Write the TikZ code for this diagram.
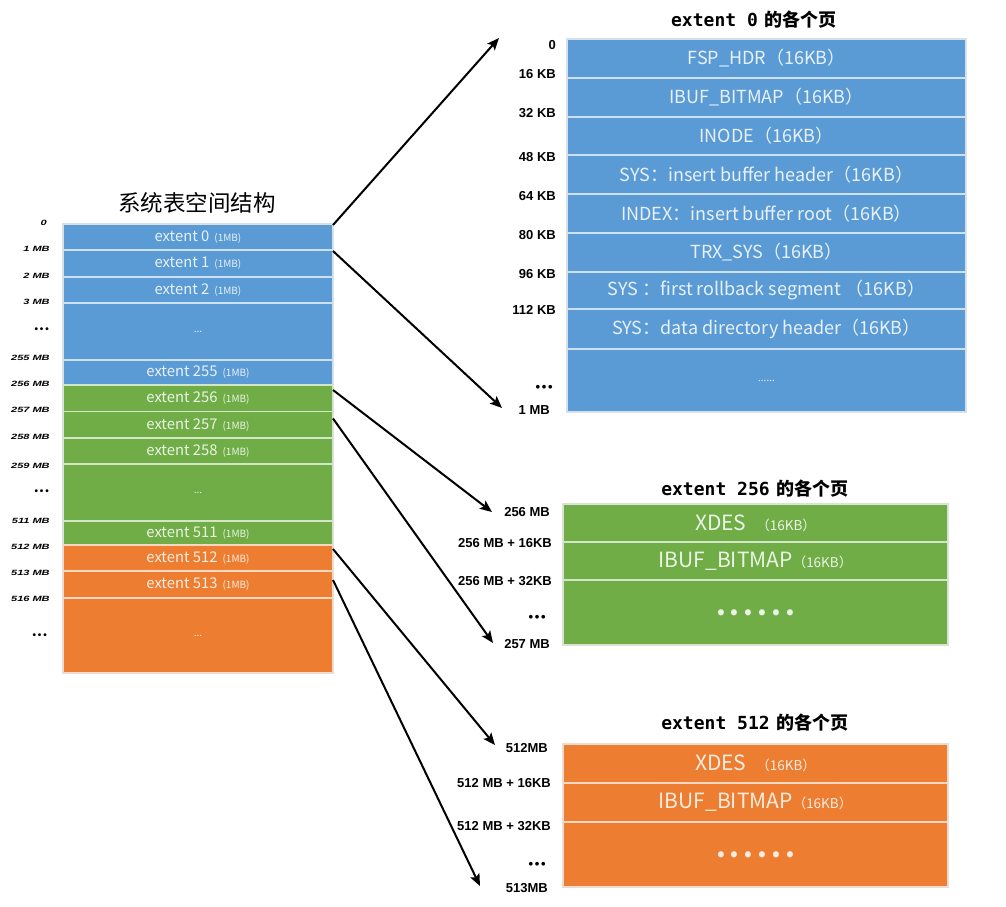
\documentclass[tikz,border=0pt]{standalone}
\usepackage{fontspec}
\setmainfont{Noto Sans CJK SC}
\newfontfamily\labf{Liberation Sans}
\newfontfamily\monof{DejaVu Sans Mono}
\newfontfamily\cjkf{Noto Sans CJK SC}
\usetikzlibrary{arrows.meta,calc}
\definecolor{cblue}{HTML}{5B9BD5}
\definecolor{cgreen}{HTML}{70AD47}
\definecolor{corange}{HTML}{ED7D31}
\newcommand\onemb{{\hspace{5pt}\fontsize{10}{10}\selectfont(1MB)}}
\newcommand\kbs{{\fontsize{13.5}{14}\selectfont（16KB）}}
\newcommand\bigdotsrow{{\fontsize{28}{30}\selectfont\bfseries .\kern4pt.\kern4pt.\kern4pt.\kern4pt.\kern4pt.}}
\newcommand\tridots{•\kern1.8pt•\kern1.8pt•}
\begin{document}
\begin{tikzpicture}[x=1pt,y=-1pt,
  cell/.style={rectangle,inner sep=0pt,outer sep=0pt,line width=1.3pt,
     fill=#1,draw=white!70!#1,text=white!86!#1},
  lcell/.style 2 args={cell=#1,minimum width=270pt,minimum height=#2 pt,
     font=\fontsize{14.8}{16}\selectfont},
  tcell/.style={cell=cblue,minimum width=399pt,minimum height=#1 pt,
     font=\fontsize{18}{19}\selectfont},
  gcell/.style 2 args={cell=#1,minimum width=385pt,minimum height=#2 pt,
     font=\fontsize{21}{23}\selectfont},
  llab/.style={anchor=east,inner sep=0pt,xscale=1.45,
     font=\labf\bfseries\itshape\fontsize{7.6}{8}\selectfont},
  ldots/.style={anchor=east,inner sep=0pt,font=\labf\bfseries\fontsize{10}{10}\selectfont},
  rlab/.style={anchor=east,inner sep=0pt,font=\labf\bfseries\fontsize{13}{14}\selectfont},
  ttl/.style={inner sep=0pt,font=\fontsize{18}{20}\selectfont\bfseries},
  arr/.style={line width=2pt,-{Stealth[length=12pt,width=10pt,inset=2.5pt]}},
]
\useasboundingbox[fill=white] (0,0) rectangle (1006,906);

% ---------- left column ----------
\node[inner sep=0pt,font=\fontsize{22.5}{24}\selectfont] (ltitle) at (197,203) {系统表空间结构};
\node[lcell={cblue}{26}]   (e0)   at (198,237)   {extent 0\onemb};
\node[lcell={cblue}{27}]   (e1)   at (198,263.5) {extent 1\onemb};
\node[lcell={cblue}{26}]   (e2)   at (198,290)   {extent 2\onemb};
\node[lcell={cblue}{57}]   (ed1)  at (198,331.5) {{\fontsize{10}{12}\selectfont ...}};
\node[lcell={cblue}{25}]   (e255) at (198,372.5) {extent 255\onemb};
\node[lcell={cgreen}{26.5}] (e256) at (198,398.25) {extent 256\onemb};
\node[lcell={cgreen}{26.5}] (e257) at (198,424.75) {extent 257\onemb};
\node[lcell={cgreen}{26}]  (e258) at (198,451)   {extent 258\onemb};
\node[lcell={cgreen}{57}]  (ed2)  at (198,492.5) {{\fontsize{10}{12}\selectfont ...}};
\node[lcell={cgreen}{24}]  (e511) at (198,533)   {extent 511\onemb};
\node[lcell={corange}{26}] (e512) at (198,558)   {extent 512\onemb};
\node[lcell={corange}{27}] (e513) at (198,584.5) {extent 513\onemb};
\node[lcell={corange}{75}] (ed3)  at (198,635.5) {{\fontsize{10}{12}\selectfont ...}};
\draw[gray!25,line width=0.8pt] (e0.north west) rectangle (ed3.south east);

\node[llab] (l0)   at (47,223) {0};
\node[llab] (l1)   at (50,249) {1 MB};
\node[llab] (l2)   at (50,276) {2 MB};
\node[llab] (l3)   at (50,302) {3 MB};
\node[ldots] (ld1) at (49,330) {\tridots};
\node[llab] (l255) at (50,358) {255 MB};
\node[llab] (l256) at (50,384) {256 MB};
\node[llab] (l257) at (50,410) {257 MB};
\node[llab] (l258) at (50,437) {258 MB};
\node[llab] (l259) at (50,466) {259 MB};
\node[ldots] (ld2) at (49,492) {\tridots};
\node[llab] (l511) at (50,521) {511 MB};
\node[llab] (l512) at (50,547) {512 MB};
\node[llab] (l513) at (50,573) {513 MB};
\node[llab] (l516) at (50,599) {516 MB};
\node[ldots] (ld3) at (47,636) {\tridots};

% ---------- extent 0 pages ----------
\node[ttl] (t0title) at (754,20) {{\monof extent 0}\hspace{7pt}\cjkf 的各个页};
\node[tcell=39] (p0) at (766.5,58.5)  {FSP\_HDR（16KB）};
\node[tcell=39] (p1) at (766.5,97.5)  {IBUF\_BITMAP（16KB）};
\node[tcell=38] (p2) at (766.5,136)   {INODE（16KB）};
\node[tcell=39] (p3) at (766.5,174.5) {SYS：insert buffer header（16KB）};
\node[tcell=39] (p4) at (766.5,213.5) {INDEX：insert buffer root（16KB）};
\node[tcell=39] (p5) at (766.5,252.5) {TRX\_SYS（16KB）};
\node[tcell=37] (p6) at (766.5,290.5) {SYS ：first rollback segment （16KB）};
\node[tcell=40] (p7) at (766.5,329)   {SYS：data directory header（16KB）};
\node[tcell=63] (p8) at (766.5,380.5) {{\fontsize{10}{12}\selectfont ......}};
\draw[gray!25,line width=0.8pt] (p0.north west) rectangle (p8.south east);

\node[rlab] (k0)   at (556,45)  {0};
\node[rlab] (k16)  at (556,74)  {16 KB};
\node[rlab] (k32)  at (556,113) {32 KB};
\node[rlab] (k48)  at (556,157) {48 KB};
\node[rlab] (k64)  at (556,196) {64 KB};
\node[rlab] (k80)  at (556,235) {80 KB};
\node[rlab] (k96)  at (556,274) {96 KB};
\node[rlab] (k112) at (556,310) {112 KB};
\node[rlab] (kd)   at (553,388) {\tridots};
\node[rlab] (k1m)  at (550,410) {1 MB};

% ---------- extent 256 pages ----------
\node[ttl] (t256title) at (755,489) {{\monof extent 256}\hspace{7pt}\cjkf 的各个页};
\node[gcell={cgreen}{38}] (g0) at (755.5,523) {XDES\hspace{10pt}\kbs};
\node[gcell={cgreen}{38}] (g1) at (755.5,561) {IBUF\_BITMAP\kbs};
\node[gcell={cgreen}{65}] (g2) at (755.5,612.5) {\bigdotsrow};
\draw[gray!25,line width=0.8pt] (g0.north west) rectangle (g2.south east);

\node[rlab] (m0)  at (550,512) {256 MB};
\node[rlab] (m1)  at (552,543) {256 MB + 16KB};
\node[rlab] (m2)  at (552,581) {256 MB + 32KB};
\node[rlab] (md)  at (546,618) {\tridots};
\node[rlab] (m3)  at (550,644) {257 MB};

% ---------- extent 512 pages ----------
\node[ttl] (t512title) at (755,723) {{\monof extent 512}\hspace{7pt}\cjkf 的各个页};
\node[gcell={corange}{39}] (o0) at (755.5,763.5) {XDES\hspace{10pt}\kbs};
\node[gcell={corange}{39}] (o1) at (755.5,802.5) {IBUF\_BITMAP\kbs};
\node[gcell={corange}{65}] (o2) at (755.5,854.5) {\bigdotsrow};
\draw[gray!25,line width=0.8pt] (o0.north west) rectangle (o2.south east);

\node[rlab] (n0)  at (548,748) {512MB};
\node[rlab] (n1)  at (551,783) {512 MB + 16KB};
\node[rlab] (n2)  at (551,826) {512 MB + 32KB};
\node[rlab] (nd)  at (546,865) {\tridots};
\node[rlab] (n3)  at (548,888) {513MB};

% ---------- arrows ----------
\coordinate (a1) at (499,38);
\coordinate (a2) at (502,408);
\coordinate (a3) at (492,512);
\coordinate (a4) at (493,643);
\coordinate (a5) at (495,745);
\coordinate (a6) at (480,886);
\draw[arr] ([yshift=-1pt]e0.north east) -- (a1);
\draw[arr] ([yshift=-1pt]e1.north east) -- (a2);
\draw[arr] ([yshift=-5pt]e256.north east) -- (a3);
\draw[arr] ([yshift=-7pt]e257.north east) -- (a4);
\draw[arr] ([yshift=-4pt]e512.north east) -- (a5);
\draw[arr] ([yshift=-9pt]e513.north east) -- (a6);
\end{tikzpicture}
\end{document}
